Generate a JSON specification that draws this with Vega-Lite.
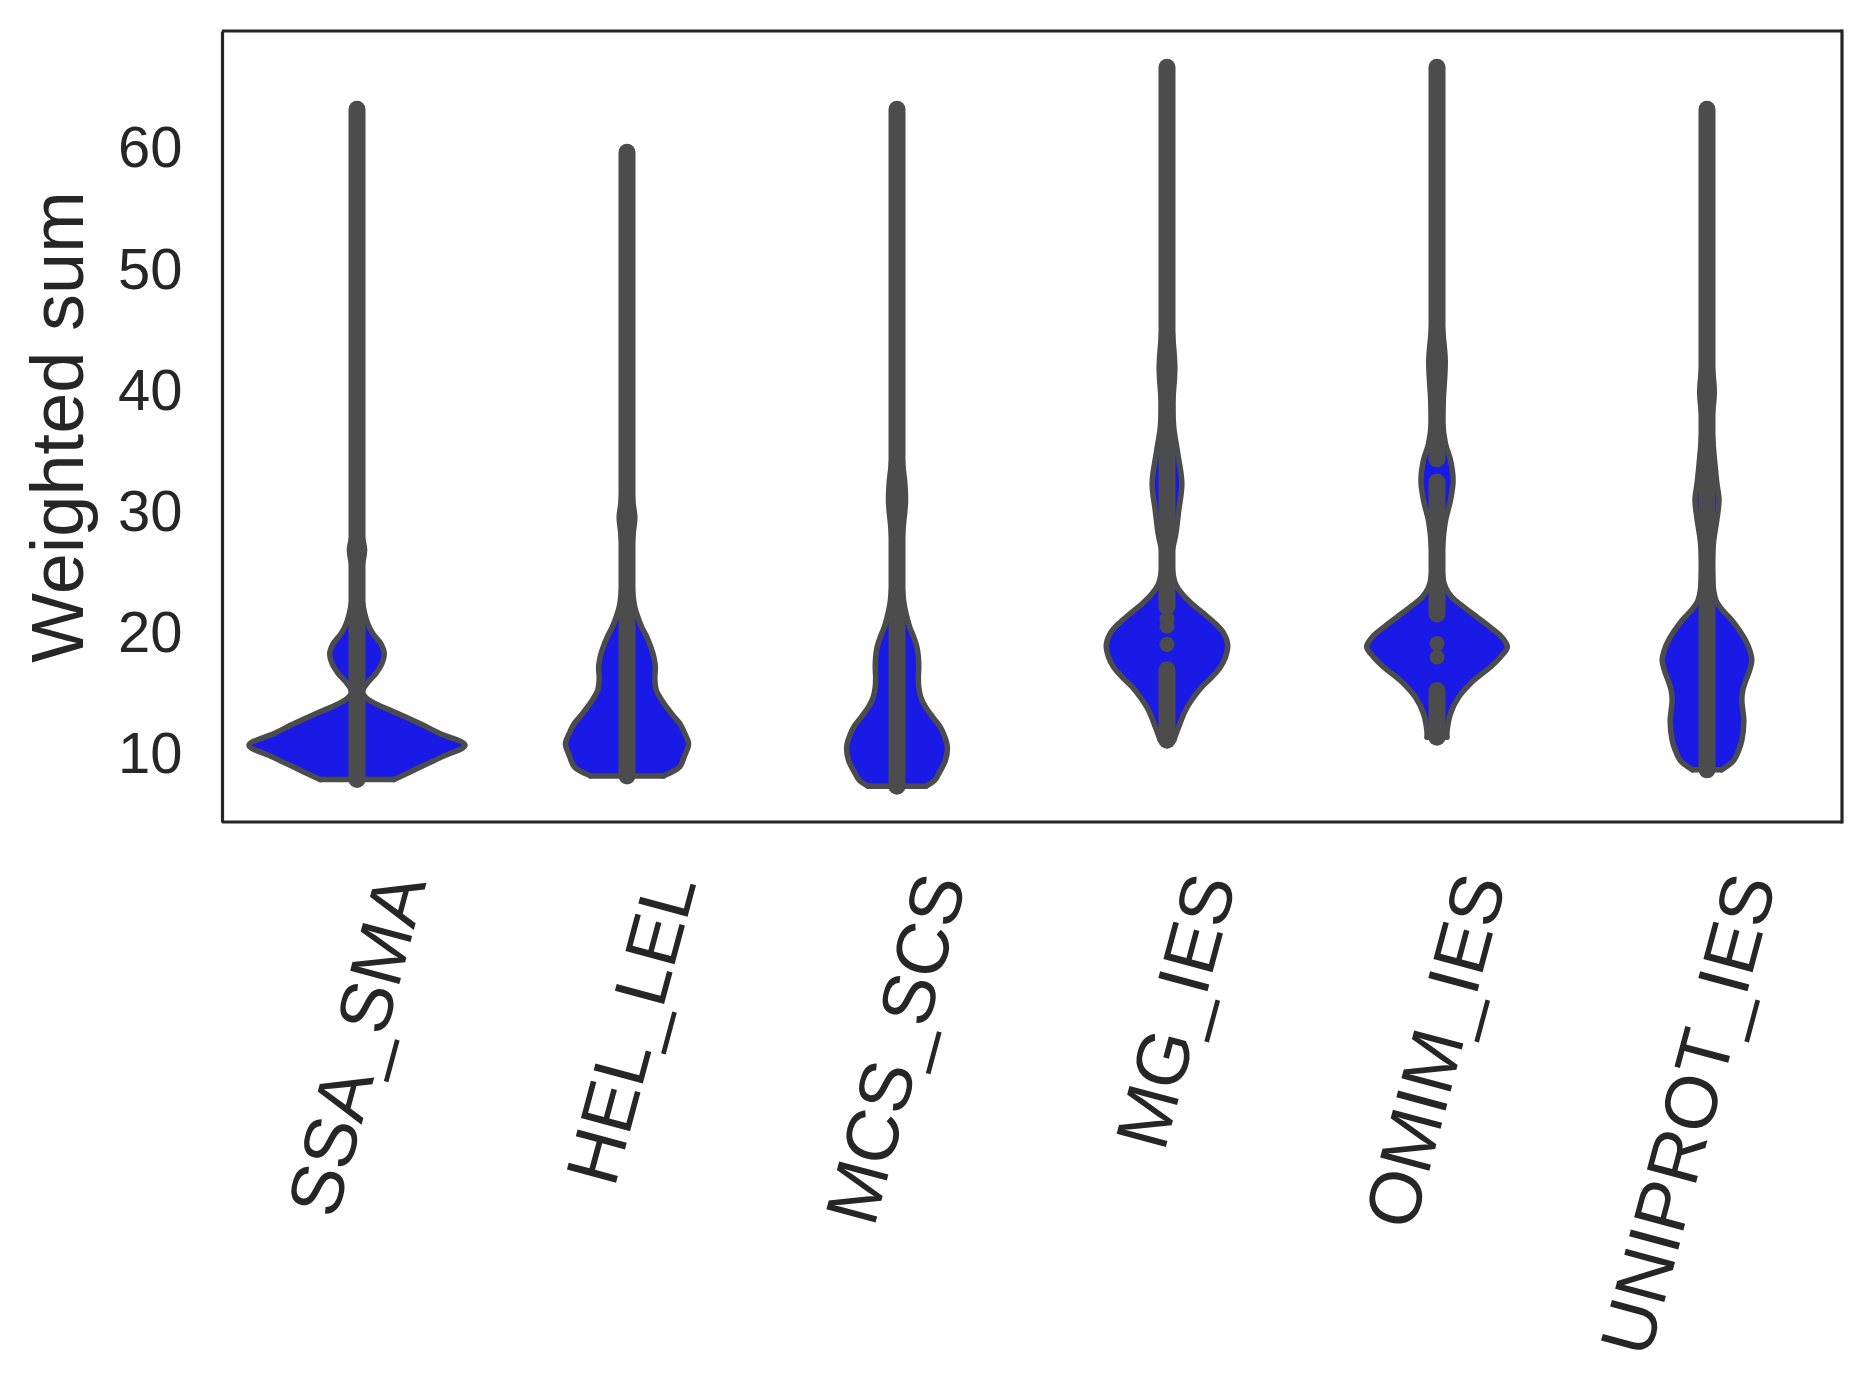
{
  "$schema": "https://vega.github.io/schema/vega-lite/v6.json",
  "background": "white",
  "padding": {"left": 23, "top": 28, "right": 5, "bottom": 5},
  "bounds": "flush",
  "config": {"view": {"stroke": null}, "font": "Liberation Sans"},
  "spacing": 0,
  "data": {"values": [
    {"kind":"v","cat":"SSA_SMA","v":8.05,"w":0.273},{"kind":"v","cat":"SSA_SMA","v":8.55,"w":0.369},{"kind":"v","cat":"SSA_SMA","v":9.1,"w":0.473},{"kind":"v","cat":"SSA_SMA","v":9.92,"w":0.628},{"kind":"v","cat":"SSA_SMA","v":10.88,"w":0.8},{"kind":"v","cat":"SSA_SMA","v":11.85,"w":0.613},{"kind":"v","cat":"SSA_SMA","v":12.67,"w":0.465},{"kind":"v","cat":"SSA_SMA","v":13.5,"w":0.302},{"kind":"v","cat":"SSA_SMA","v":14.18,"w":0.161},{"kind":"v","cat":"SSA_SMA","v":14.73,"w":0.073},{"kind":"v","cat":"SSA_SMA","v":15.28,"w":0.04},{"kind":"v","cat":"SSA_SMA","v":15.97,"w":0.073},{"kind":"v","cat":"SSA_SMA","v":16.8,"w":0.139},{"kind":"v","cat":"SSA_SMA","v":17.6,"w":0.184},{"kind":"v","cat":"SSA_SMA","v":18.44,"w":0.202},{"kind":"v","cat":"SSA_SMA","v":19.27,"w":0.176},{"kind":"v","cat":"SSA_SMA","v":20.1,"w":0.117},{"kind":"v","cat":"SSA_SMA","v":20.9,"w":0.08},{"kind":"v","cat":"SSA_SMA","v":21.7,"w":0.058},{"kind":"v","cat":"SSA_SMA","v":22.8,"w":0.039},{"kind":"v","cat":"SSA_SMA","v":24,"w":0.028},{"kind":"v","cat":"SSA_SMA","v":25.5,"w":0.036},{"kind":"v","cat":"SSA_SMA","v":27,"w":0.056},{"kind":"v","cat":"SSA_SMA","v":28.5,"w":0.032},{"kind":"v","cat":"SSA_SMA","v":30,"w":0.036},{"kind":"v","cat":"SSA_SMA","v":31.5,"w":0.024},{"kind":"v","cat":"SSA_SMA","v":34,"w":0.013},{"kind":"v","cat":"SSA_SMA","v":38,"w":0.01},{"kind":"v","cat":"SSA_SMA","v":42,"w":0.01},{"kind":"v","cat":"SSA_SMA","v":46,"w":0.006},{"kind":"v","cat":"SSA_SMA","v":50,"w":0.007},{"kind":"v","cat":"SSA_SMA","v":55,"w":0.005},{"kind":"v","cat":"SSA_SMA","v":60,"w":0.003},{"kind":"v","cat":"SSA_SMA","v":63.35,"w":0.002},
    {"kind":"v","cat":"HEL_LEL","v":8.35,"w":0.27},{"kind":"v","cat":"HEL_LEL","v":8.7,"w":0.337},{"kind":"v","cat":"HEL_LEL","v":9.1,"w":0.391},{"kind":"v","cat":"HEL_LEL","v":10.06,"w":0.428},{"kind":"v","cat":"HEL_LEL","v":11.0,"w":0.456},{"kind":"v","cat":"HEL_LEL","v":11.85,"w":0.428},{"kind":"v","cat":"HEL_LEL","v":12.67,"w":0.391},{"kind":"v","cat":"HEL_LEL","v":13.36,"w":0.339},{"kind":"v","cat":"HEL_LEL","v":14.0,"w":0.295},{"kind":"v","cat":"HEL_LEL","v":14.73,"w":0.25},{"kind":"v","cat":"HEL_LEL","v":15.42,"w":0.217},{"kind":"v","cat":"HEL_LEL","v":16.38,"w":0.206},{"kind":"v","cat":"HEL_LEL","v":17.34,"w":0.21},{"kind":"v","cat":"HEL_LEL","v":18.16,"w":0.199},{"kind":"v","cat":"HEL_LEL","v":19.0,"w":0.176},{"kind":"v","cat":"HEL_LEL","v":19.8,"w":0.147},{"kind":"v","cat":"HEL_LEL","v":20.6,"w":0.11},{"kind":"v","cat":"HEL_LEL","v":21.46,"w":0.08},{"kind":"v","cat":"HEL_LEL","v":22.28,"w":0.058},{"kind":"v","cat":"HEL_LEL","v":23.4,"w":0.043},{"kind":"v","cat":"HEL_LEL","v":25,"w":0.032},{"kind":"v","cat":"HEL_LEL","v":27,"w":0.036},{"kind":"v","cat":"HEL_LEL","v":28.5,"w":0.047},{"kind":"v","cat":"HEL_LEL","v":29.7,"w":0.058},{"kind":"v","cat":"HEL_LEL","v":31,"w":0.043},{"kind":"v","cat":"HEL_LEL","v":33,"w":0.032},{"kind":"v","cat":"HEL_LEL","v":36,"w":0.021},{"kind":"v","cat":"HEL_LEL","v":40,"w":0.017},{"kind":"v","cat":"HEL_LEL","v":44,"w":0.013},{"kind":"v","cat":"HEL_LEL","v":48,"w":0.01},{"kind":"v","cat":"HEL_LEL","v":52,"w":0.006},{"kind":"v","cat":"HEL_LEL","v":56,"w":0.003},{"kind":"v","cat":"HEL_LEL","v":59.8,"w":0.002},
    {"kind":"v","cat":"MCS_SCS","v":7.5,"w":0.213},{"kind":"v","cat":"MCS_SCS","v":8.0,"w":0.28},{"kind":"v","cat":"MCS_SCS","v":8.55,"w":0.31},{"kind":"v","cat":"MCS_SCS","v":9.65,"w":0.359},{"kind":"v","cat":"MCS_SCS","v":10.7,"w":0.373},{"kind":"v","cat":"MCS_SCS","v":11.57,"w":0.354},{"kind":"v","cat":"MCS_SCS","v":12.4,"w":0.32},{"kind":"v","cat":"MCS_SCS","v":13.2,"w":0.265},{"kind":"v","cat":"MCS_SCS","v":14.0,"w":0.213},{"kind":"v","cat":"MCS_SCS","v":14.86,"w":0.176},{"kind":"v","cat":"MCS_SCS","v":15.7,"w":0.161},{"kind":"v","cat":"MCS_SCS","v":16.5,"w":0.158},{"kind":"v","cat":"MCS_SCS","v":17.3,"w":0.161},{"kind":"v","cat":"MCS_SCS","v":18.16,"w":0.158},{"kind":"v","cat":"MCS_SCS","v":19.0,"w":0.147},{"kind":"v","cat":"MCS_SCS","v":19.8,"w":0.124},{"kind":"v","cat":"MCS_SCS","v":20.6,"w":0.095},{"kind":"v","cat":"MCS_SCS","v":21.46,"w":0.073},{"kind":"v","cat":"MCS_SCS","v":22.3,"w":0.056},{"kind":"v","cat":"MCS_SCS","v":23.4,"w":0.043},{"kind":"v","cat":"MCS_SCS","v":25,"w":0.032},{"kind":"v","cat":"MCS_SCS","v":27,"w":0.032},{"kind":"v","cat":"MCS_SCS","v":29,"w":0.047},{"kind":"v","cat":"MCS_SCS","v":31,"w":0.063},{"kind":"v","cat":"MCS_SCS","v":32.5,"w":0.058},{"kind":"v","cat":"MCS_SCS","v":34,"w":0.043},{"kind":"v","cat":"MCS_SCS","v":36,"w":0.028},{"kind":"v","cat":"MCS_SCS","v":39,"w":0.021},{"kind":"v","cat":"MCS_SCS","v":43,"w":0.017},{"kind":"v","cat":"MCS_SCS","v":47,"w":0.013},{"kind":"v","cat":"MCS_SCS","v":52,"w":0.01},{"kind":"v","cat":"MCS_SCS","v":57,"w":0.006},{"kind":"v","cat":"MCS_SCS","v":61,"w":0.003},{"kind":"v","cat":"MCS_SCS","v":63.35,"w":0.002},
    {"kind":"v","cat":"MG_IES","v":11.3,"w":0.05},{"kind":"v","cat":"MG_IES","v":12.4,"w":0.087},{"kind":"v","cat":"MG_IES","v":13.77,"w":0.137},{"kind":"v","cat":"MG_IES","v":14.86,"w":0.199},{"kind":"v","cat":"MG_IES","v":15.69,"w":0.258},{"kind":"v","cat":"MG_IES","v":16.5,"w":0.332},{"kind":"v","cat":"MG_IES","v":17.34,"w":0.396},{"kind":"v","cat":"MG_IES","v":18.16,"w":0.433},{"kind":"v","cat":"MG_IES","v":19.13,"w":0.45},{"kind":"v","cat":"MG_IES","v":20.1,"w":0.421},{"kind":"v","cat":"MG_IES","v":20.9,"w":0.359},{"kind":"v","cat":"MG_IES","v":21.74,"w":0.273},{"kind":"v","cat":"MG_IES","v":22.56,"w":0.184},{"kind":"v","cat":"MG_IES","v":23.4,"w":0.11},{"kind":"v","cat":"MG_IES","v":24.2,"w":0.063},{"kind":"v","cat":"MG_IES","v":25.0,"w":0.045},{"kind":"v","cat":"MG_IES","v":26.4,"w":0.032},{"kind":"v","cat":"MG_IES","v":28.3,"w":0.065},{"kind":"v","cat":"MG_IES","v":30.26,"w":0.087},{"kind":"v","cat":"MG_IES","v":32.5,"w":0.11},{"kind":"v","cat":"MG_IES","v":35.2,"w":0.076},{"kind":"v","cat":"MG_IES","v":37.1,"w":0.05},{"kind":"v","cat":"MG_IES","v":39,"w":0.043},{"kind":"v","cat":"MG_IES","v":42,"w":0.058},{"kind":"v","cat":"MG_IES","v":44.5,"w":0.043},{"kind":"v","cat":"MG_IES","v":47,"w":0.024},{"kind":"v","cat":"MG_IES","v":50,"w":0.021},{"kind":"v","cat":"MG_IES","v":55,"w":0.017},{"kind":"v","cat":"MG_IES","v":60,"w":0.013},{"kind":"v","cat":"MG_IES","v":63,"w":0.01},{"kind":"v","cat":"MG_IES","v":66.8,"w":0.002},
    {"kind":"v","cat":"OMIM_IES","v":11.55,"w":0.073},{"kind":"v","cat":"OMIM_IES","v":12.1,"w":0.075},{"kind":"v","cat":"OMIM_IES","v":13.5,"w":0.1},{"kind":"v","cat":"OMIM_IES","v":14.86,"w":0.161},{"kind":"v","cat":"OMIM_IES","v":16.24,"w":0.273},{"kind":"v","cat":"OMIM_IES","v":17.34,"w":0.396},{"kind":"v","cat":"OMIM_IES","v":18.16,"w":0.47},{"kind":"v","cat":"OMIM_IES","v":19.0,"w":0.521},{"kind":"v","cat":"OMIM_IES","v":19.8,"w":0.48},{"kind":"v","cat":"OMIM_IES","v":20.6,"w":0.396},{"kind":"v","cat":"OMIM_IES","v":21.46,"w":0.295},{"kind":"v","cat":"OMIM_IES","v":22.28,"w":0.199},{"kind":"v","cat":"OMIM_IES","v":23.1,"w":0.11},{"kind":"v","cat":"OMIM_IES","v":23.9,"w":0.063},{"kind":"v","cat":"OMIM_IES","v":24.76,"w":0.043},{"kind":"v","cat":"OMIM_IES","v":26.1,"w":0.036},{"kind":"v","cat":"OMIM_IES","v":27.8,"w":0.045},{"kind":"v","cat":"OMIM_IES","v":29.4,"w":0.063},{"kind":"v","cat":"OMIM_IES","v":31.1,"w":0.1},{"kind":"v","cat":"OMIM_IES","v":32.7,"w":0.119},{"kind":"v","cat":"OMIM_IES","v":34.4,"w":0.1},{"kind":"v","cat":"OMIM_IES","v":35.75,"w":0.063},{"kind":"v","cat":"OMIM_IES","v":37.4,"w":0.043},{"kind":"v","cat":"OMIM_IES","v":39.4,"w":0.047},{"kind":"v","cat":"OMIM_IES","v":42.6,"w":0.061},{"kind":"v","cat":"OMIM_IES","v":45,"w":0.043},{"kind":"v","cat":"OMIM_IES","v":48,"w":0.021},{"kind":"v","cat":"OMIM_IES","v":52,"w":0.017},{"kind":"v","cat":"OMIM_IES","v":56,"w":0.013},{"kind":"v","cat":"OMIM_IES","v":60,"w":0.01},{"kind":"v","cat":"OMIM_IES","v":64,"w":0.006},{"kind":"v","cat":"OMIM_IES","v":66.8,"w":0.002},
    {"kind":"v","cat":"UNIPROT_IES","v":8.85,"w":0.107},{"kind":"v","cat":"UNIPROT_IES","v":9.6,"w":0.196},{"kind":"v","cat":"UNIPROT_IES","v":10.5,"w":0.236},{"kind":"v","cat":"UNIPROT_IES","v":11.3,"w":0.258},{"kind":"v","cat":"UNIPROT_IES","v":12.9,"w":0.273},{"kind":"v","cat":"UNIPROT_IES","v":13.8,"w":0.265},{"kind":"v","cat":"UNIPROT_IES","v":14.6,"w":0.258},{"kind":"v","cat":"UNIPROT_IES","v":15.4,"w":0.265},{"kind":"v","cat":"UNIPROT_IES","v":16.2,"w":0.287},{"kind":"v","cat":"UNIPROT_IES","v":17.1,"w":0.317},{"kind":"v","cat":"UNIPROT_IES","v":17.9,"w":0.332},{"kind":"v","cat":"UNIPROT_IES","v":18.7,"w":0.317},{"kind":"v","cat":"UNIPROT_IES","v":19.5,"w":0.287},{"kind":"v","cat":"UNIPROT_IES","v":20.3,"w":0.243},{"kind":"v","cat":"UNIPROT_IES","v":21.2,"w":0.184},{"kind":"v","cat":"UNIPROT_IES","v":22.0,"w":0.117},{"kind":"v","cat":"UNIPROT_IES","v":22.8,"w":0.068},{"kind":"v","cat":"UNIPROT_IES","v":23.6,"w":0.05},{"kind":"v","cat":"UNIPROT_IES","v":24.5,"w":0.043},{"kind":"v","cat":"UNIPROT_IES","v":26,"w":0.039},{"kind":"v","cat":"UNIPROT_IES","v":27.8,"w":0.05},{"kind":"v","cat":"UNIPROT_IES","v":29.5,"w":0.073},{"kind":"v","cat":"UNIPROT_IES","v":31.1,"w":0.089},{"kind":"v","cat":"UNIPROT_IES","v":32.5,"w":0.073},{"kind":"v","cat":"UNIPROT_IES","v":33.8,"w":0.061},{"kind":"v","cat":"UNIPROT_IES","v":35.5,"w":0.047},{"kind":"v","cat":"UNIPROT_IES","v":37.5,"w":0.036},{"kind":"v","cat":"UNIPROT_IES","v":40,"w":0.054},{"kind":"v","cat":"UNIPROT_IES","v":42.5,"w":0.036},{"kind":"v","cat":"UNIPROT_IES","v":45,"w":0.024},{"kind":"v","cat":"UNIPROT_IES","v":48,"w":0.021},{"kind":"v","cat":"UNIPROT_IES","v":52,"w":0.017},{"kind":"v","cat":"UNIPROT_IES","v":56,"w":0.013},{"kind":"v","cat":"UNIPROT_IES","v":60,"w":0.01},{"kind":"v","cat":"UNIPROT_IES","v":63.35,"w":0.002},
    {"kind":"seg","cat":"SSA_SMA","lo":8.05,"hi":63.35},
    {"kind":"seg","cat":"HEL_LEL","lo":8.35,"hi":59.8},
    {"kind":"seg","cat":"MCS_SCS","lo":7.5,"hi":63.35},
    {"kind":"seg","cat":"MG_IES","lo":22.3,"hi":66.8},
    {"kind":"seg","cat":"MG_IES","lo":11.3,"hi":17.1},
    {"kind":"seg","cat":"OMIM_IES","lo":34.5,"hi":66.8},
    {"kind":"seg","cat":"OMIM_IES","lo":21.7,"hi":32.6},
    {"kind":"seg","cat":"OMIM_IES","lo":11.55,"hi":15.4},
    {"kind":"seg","cat":"UNIPROT_IES","lo":8.85,"hi":63.35},
    {"kind":"dot","cat":"MG_IES","d":21.3},
    {"kind":"dot","cat":"MG_IES","d":20.7},
    {"kind":"dot","cat":"MG_IES","d":19.2},
    {"kind":"dot","cat":"OMIM_IES","d":19.27},
    {"kind":"dot","cat":"OMIM_IES","d":18.16}
  ]},
  "facet": {
    "column": {
      "field": "cat",
      "type": "nominal",
      "sort": ["SSA_SMA","HEL_LEL","MCS_SCS","MG_IES","OMIM_IES","UNIPROT_IES"],
      "header": {
        "title": null,
        "labelOrient": "bottom",
        "labelAngle": -75,
        "labelAlign": "right",
        "labelBaseline": "line-top",
        "labelLineHeight": 102,
        "labelFont": "Liberation Sans",
        "labelFontSize": 74,
        "labelColor": "#262626",
        "labelPadding": 42,
        "labelLimit": 0
      }
    }
  },
  "spec": {
    "width": 270,
    "height": 791,
    "resolve": {"scale": {"x": "independent"}},
    "layer": [
      {
        "transform": [{"filter": "datum.kind === 'v'"}],
        "mark": {"type": "area", "orient": "horizontal", "interpolate": "catmull-rom", "fill": "#1a1ae6"},
        "encoding": {
          "y": {
            "field": "v", "type": "quantitative", "title": "Weighted sum",
            "scale": {"domain": [4.55, 69.8], "nice": false, "zero": false},
            "axis": {
              "values": [10, 20, 30, 40, 50, 60], "ticks": false, "tickSize": 0, "grid": false,
              "domain": true, "domainColor": "#262626", "domainWidth": 3.2,
              "labelFont": "Liberation Sans", "labelFontSize": 58, "labelColor": "#262626", "labelPadding": 40,
              "titleFont": "Liberation Sans", "titleFontSize": 74, "titleFontWeight": "normal", "titleColor": "#262626", "titlePadding": 19
            }
          },
          "x": {"field": "w", "type": "quantitative", "scale": {"domain": [-1, 1], "nice": false, "zero": false}, "axis": null},
          "x2": {"datum": 0}
        }
      },
      {
        "transform": [{"filter": "datum.kind === 'v'"}],
        "mark": {"type": "area", "orient": "horizontal", "interpolate": "catmull-rom", "fill": "#1a1ae6"},
        "encoding": {
          "y": {"field": "v", "type": "quantitative", "title": "Weighted sum"},
          "x": {"field": "w", "type": "quantitative", "scale": {"domain": [-1, 1], "nice": false, "zero": false, "reverse": true}, "axis": null},
          "x2": {"datum": 0}
        }
      },
      {
        "transform": [{"filter": "datum.kind === 'v'"}],
        "mark": {"type": "line", "orient": "horizontal", "interpolate": "catmull-rom", "color": "#4c4c4c", "strokeWidth": 5.5, "strokeJoin": "round", "strokeCap": "round"},
        "encoding": {
          "y": {"field": "v", "type": "quantitative", "title": "Weighted sum"},
          "x": {"field": "w", "type": "quantitative", "scale": {"domain": [-1, 1], "nice": false, "zero": false}, "axis": null},
          "order": {"field": "v", "type": "quantitative"}
        }
      },
      {
        "transform": [{"filter": "datum.kind === 'v'"}],
        "mark": {"type": "line", "orient": "horizontal", "interpolate": "catmull-rom", "color": "#4c4c4c", "strokeWidth": 5.5, "strokeJoin": "round", "strokeCap": "round"},
        "encoding": {
          "y": {"field": "v", "type": "quantitative", "title": "Weighted sum"},
          "x": {"field": "w", "type": "quantitative", "scale": {"domain": [-1, 1], "nice": false, "zero": false, "reverse": true}, "axis": null},
          "order": {"field": "v", "type": "quantitative"}
        }
      },
      {
        "transform": [
          {"filter": "datum.kind === 'v'"},
          {"joinaggregate": [{"op": "min", "field": "v", "as": "vmin"}], "groupby": ["cat"]},
          {"filter": "datum.v === datum.vmin"}
        ],
        "mark": {"type": "rule", "color": "#4c4c4c", "strokeWidth": 5.5, "strokeCap": "round"},
        "encoding": {
          "y": {"field": "v", "type": "quantitative", "title": "Weighted sum"},
          "x": {"field": "w", "type": "quantitative", "scale": {"domain": [-1, 1], "nice": false, "zero": false}, "axis": null},
          "x2": {"datum": 0}
        }
      },
      {
        "transform": [
          {"filter": "datum.kind === 'v'"},
          {"joinaggregate": [{"op": "min", "field": "v", "as": "vmin"}], "groupby": ["cat"]},
          {"filter": "datum.v === datum.vmin"}
        ],
        "mark": {"type": "rule", "color": "#4c4c4c", "strokeWidth": 5.5, "strokeCap": "round"},
        "encoding": {
          "y": {"field": "v", "type": "quantitative", "title": "Weighted sum"},
          "x": {"field": "w", "type": "quantitative", "scale": {"domain": [-1, 1], "nice": false, "zero": false, "reverse": true}, "axis": null},
          "x2": {"datum": 0}
        }
      },
      {
        "transform": [{"filter": "datum.kind === 'seg'"}],
        "mark": {"type": "rule", "color": "#4c4c4c", "strokeWidth": 17, "strokeCap": "round"},
        "encoding": {
          "y": {"field": "lo", "type": "quantitative", "title": "Weighted sum"},
          "y2": {"field": "hi"}
        }
      },
      {
        "transform": [{"filter": "datum.kind === 'dot'"}],
        "mark": {"type": "circle", "color": "#4c4c4c", "opacity": 1, "size": 227},
        "encoding": {
          "y": {"field": "d", "type": "quantitative", "title": "Weighted sum"}
        }
      },
      {
        "transform": [{"filter": "datum.kind === 'seg' && datum.hi > 59"}],
        "mark": {"type": "rule", "color": "#262626", "strokeWidth": 3.2, "strokeCap": "butt"},
        "encoding": {
          "y": {"datum": 69.8},
          "x": {"value": 0},
          "x2": {"value": "width"}
        }
      },
      {
        "transform": [{"filter": "datum.kind === 'seg' && datum.hi > 59"}],
        "mark": {"type": "rule", "color": "#262626", "strokeWidth": 3.2, "strokeCap": "butt"},
        "encoding": {
          "y": {"datum": 4.55},
          "x": {"value": 0},
          "x2": {"value": "width"}
        }
      },
      {
        "transform": [{"filter": "datum.kind === 'seg' && datum.hi > 59 && datum.cat === 'UNIPROT_IES'"}],
        "mark": {"type": "rule", "color": "#262626", "strokeWidth": 3.2, "strokeCap": "square"},
        "encoding": {
          "x": {"value": "width"},
          "y": {"datum": 4.55},
          "y2": {"datum": 69.8}
        }
      }
    ]
  }
}
